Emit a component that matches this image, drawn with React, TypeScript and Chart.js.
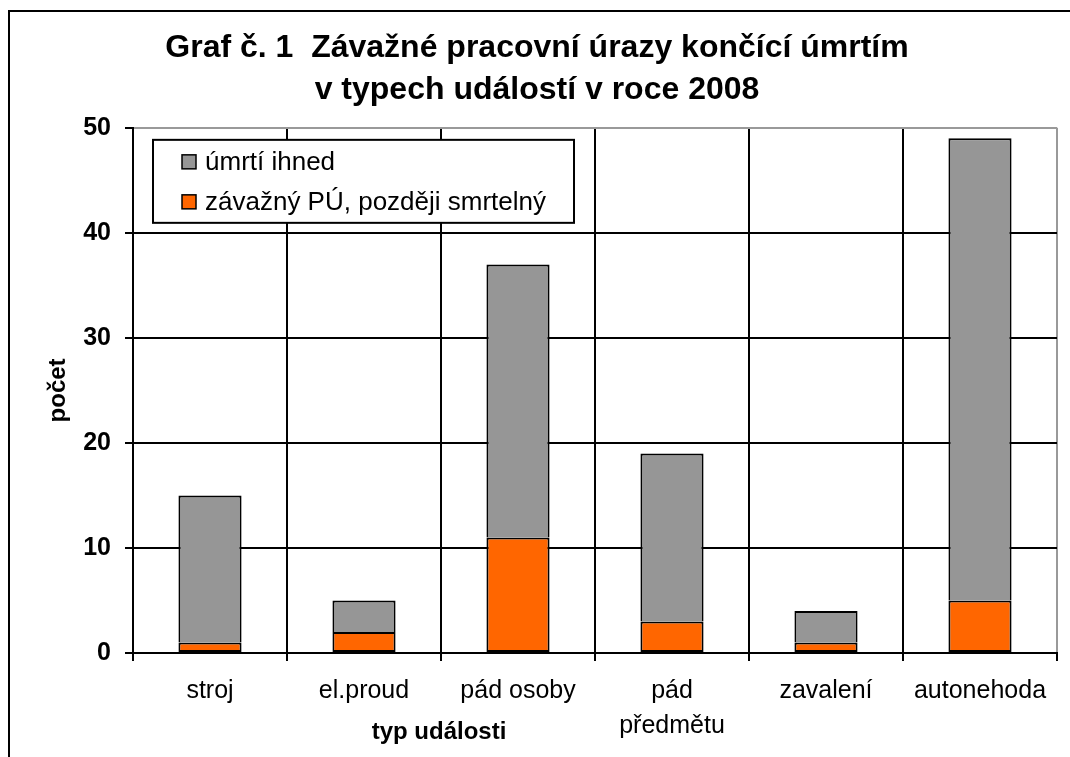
import React, { useEffect, useRef } from 'react';
import { Chart, registerables } from 'chart.js';

Chart.register(...registerables);

const FONT = '"Liberation Sans", Arial, sans-serif';

const titleLines = ['Graf č. 1  Závažné pracovní úrazy končící úmrtím', 'v typech událostí v roce 2008'];
const categories: (string | string[])[] = ['stroj', 'el.proud', 'pád osoby', ['pád', 'předmětu'], 'zavalení', 'autonehoda'];
const seriesLaterLabel = 'závažný PÚ, později smrtelný';
const seriesLater = [1, 2, 11, 3, 1, 5];
const seriesImmediateLabel = 'úmrtí ihned';
const seriesImmediate = [14, 3, 26, 16, 3, 44];
const yTitle = 'počet';
const xTitle = 'typ události';
const yMin = 0;
const yMax = 50;
const yStep = 10;

const GRAY = '#969696';
const ORANGE = '#FF6600';

const decorPlugin = {
  id: 'decor',
  beforeDraw(chart: any) {
    const ctx = chart.ctx;
    ctx.save();
    ctx.fillStyle = '#ffffff';
    ctx.fillRect(0, 0, chart.width, chart.height);
    ctx.fillStyle = '#000000';
    ctx.fillRect(8, 10, chart.width - 8, 2);
    ctx.fillRect(8, 10, 2, chart.height - 10);
    ctx.restore();
  },
  afterDraw(chart: any) {
    const { ctx, chartArea } = chart;
    ctx.save();
    // legend box inside plot area
    const x0 = chartArea.left + 20;
    const y0 = chartArea.top + 12;
    const w = 421;
    const h = 83;
    ctx.fillStyle = '#ffffff';
    ctx.fillRect(x0, y0, w, h);
    ctx.strokeStyle = '#000000';
    ctx.lineWidth = 2;
    ctx.strokeRect(x0, y0, w, h);
    const items = [...chart.data.datasets].reverse();
    items.forEach((ds: any, i: number) => {
      const cy = y0 + 22 + i * 40;
      ctx.fillStyle = ds.backgroundColor;
      ctx.fillRect(x0 + 29, cy - 7, 14, 14);
      ctx.lineWidth = 1.5;
      ctx.strokeStyle = '#000000';
      ctx.strokeRect(x0 + 29, cy - 7, 14, 14);
      ctx.fillStyle = '#000000';
      ctx.font = `26px ${FONT}`;
      ctx.textAlign = 'left';
      ctx.textBaseline = 'middle';
      ctx.fillText(ds.label, x0 + 52, cy + 1);
    });
    // x axis title (offset left in the original)
    ctx.font = `bold 24px ${FONT}`;
    ctx.fillStyle = '#000000';
    ctx.textAlign = 'center';
    ctx.textBaseline = 'middle';
    ctx.fillText(xTitle, chartArea.left + 306, chartArea.bottom + 79);
    ctx.restore();
  },
};

export default function App() {
  const canvasRef = useRef<HTMLCanvasElement | null>(null);

  useEffect(() => {
    if (!canvasRef.current) return;
    const chart = new Chart(canvasRef.current, {
      type: 'bar',
      data: {
        labels: categories as any,
        datasets: [
          {
            label: seriesLaterLabel,
            data: seriesLater,
            backgroundColor: ORANGE,
            borderColor: '#000000',
            borderWidth: 2,
            borderSkipped: false,
            barPercentage: 0.41,
            categoryPercentage: 1,
          },
          {
            label: seriesImmediateLabel,
            data: seriesImmediate,
            backgroundColor: GRAY,
            borderColor: '#000000',
            borderWidth: 2,
            borderSkipped: 'start',
            barPercentage: 0.41,
            categoryPercentage: 1,
          },
        ],
      },
      options: {
        responsive: false,
        animation: false,
        layout: { padding: { left: 17, right: 13, top: 0, bottom: 0 } },
        plugins: {
          legend: { display: false },
          tooltip: { enabled: false },
          title: {
            display: true,
            text: titleLines,
            color: '#000000',
            font: { family: FONT, size: 32, weight: 'bold', lineHeight: 1.31 },
            padding: { top: 27, bottom: 17 },
          },
        },
        scales: {
          x: {
            stacked: true,
            offset: true,
            grid: {
              offset: true,
              display: true,
              drawTicks: true,
              tickLength: 8,
              lineWidth: 2,
              tickColor: '#000000',
              tickWidth: 2,
              color: (c: any) => (c.index === undefined ? '#999999' : '#000000'),
            },
            border: { display: true, color: '#000000', width: 2 },
            ticks: {
              color: '#000000',
              font: { family: FONT, size: 25, lineHeight: 1.4 },
              padding: 13,
              maxRotation: 0,
              minRotation: 0,
              autoSkip: false,
            },
          },
          y: {
            stacked: true,
            min: yMin,
            max: yMax,
            grid: {
              display: true,
              drawTicks: true,
              tickLength: 8,
              lineWidth: 2,
              tickColor: '#000000',
              tickWidth: 2,
              color: (c: any) => (c.tick && c.tick.value === yMax ? '#999999' : '#000000'),
            },
            border: { display: true, color: '#000000', width: 2 },
            ticks: {
              stepSize: yStep,
              color: '#000000',
              font: { family: FONT, size: 25, weight: 'bold' },
              padding: 14,
            },
            title: {
              display: true,
              text: yTitle,
              color: '#000000',
              font: { family: FONT, size: 24, weight: 'bold', lineHeight: 1.2 },
              padding: { top: 26.6, bottom: -3.2 },
            },
          },
        },
      },
      plugins: [decorPlugin],
    });
    return () => chart.destroy();
  }, []);

  return (
    <div style={{ position: 'fixed', left: 0, top: 0, width: 1070, height: 757, background: '#fff' }}>
      <canvas ref={canvasRef} width={1070} height={757} style={{ display: 'block' }} />
    </div>
  );
}
